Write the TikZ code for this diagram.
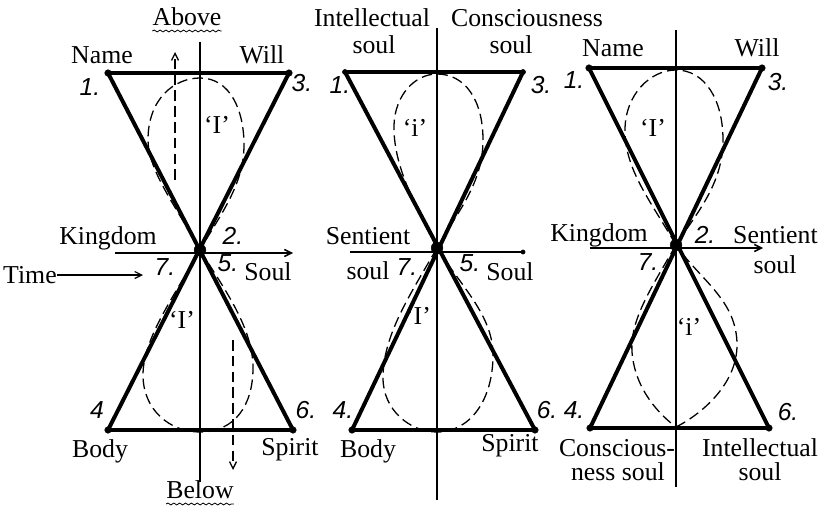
\documentclass[tikz,border=0pt]{standalone}
\usepackage{fontspec}
\setmainfont{Liberation Serif}
\newfontfamily\hand{Liberation Sans}
\usetikzlibrary{arrows.meta,decorations.pathmorphing}

\begin{document}
\begin{tikzpicture}[x=0.03cm, y=-0.03cm,
    tri/.style={line width=3.4pt, line join=round},
    axis/.style={line width=1.3pt},
    curl/.style={line width=1.1pt, dash pattern=on 9pt off 4.5pt},
    every node/.style={font=\fontsize{22}{24}\selectfont, inner sep=0pt},
    num/.style={font=\hand\itshape\fontsize{21}{23}\selectfont},
    wavy/.style={decorate, decoration={snake, amplitude=0.8pt, segment length=5pt}, line width=0.7pt},
    tip/.style={-{Straight Barb[length=6pt, width=6pt]}}]
\useasboundingbox (0,0) rectangle (823,508);

% left picture
\coordinate (a1) at (108,73);  \coordinate (a3) at (289,73);
\coordinate (a4) at (108,430); \coordinate (a6) at (293,430);
\coordinate (ac) at (200,250);
\coordinate (atop) at (200,42); \coordinate (abot) at (200,482);
\coordinate (al) at (115,253);  \coordinate (ar) at (293,253);
\draw[axis] (atop) -- (abot);
\draw[axis, tip] (al) -- (ar);
\draw[tri] (a1) -- (a3) -- (a4) -- (a6) -- cycle;
\filldraw (a1) circle (2.8pt) (a3) circle (2.8pt) (a4) circle (2.8pt) (a6) circle (2.8pt);
\filldraw (ac) circle (5pt);
\draw[curl] (ac) .. controls (175,205) and (148,170) .. (148,140) .. controls (148,98) and (175,78) .. (200,78)
  .. controls (230,78) and (244,110) .. (244,145) .. controls (244,185) and (220,215) .. (ac);
\draw[curl] (ac) .. controls (175,295) and (143,338) .. (143,375) .. controls (143,410) and (170,432) .. (200,432)
  .. controls (235,432) and (253,405) .. (253,368) .. controls (253,328) and (225,290) .. (ac);
\coordinate (upa) at (175,180); \coordinate (upb) at (175,52);
\coordinate (dna) at (233,340); \coordinate (dnb) at (233,470);
\draw[curl, tip] (upa) -- (upb);
\draw[curl, tip] (dna) -- (dnb);
\node (above) at (187,17) {Above};
\draw[wavy] ([yshift=-4pt]above.south west) -- ([yshift=-4pt]above.south east);
\node (below) at (200,490) {Below};
\draw[wavy] ([yshift=-4pt]below.south west) -- ([yshift=-4pt]below.south east);
\node (aname) at (102,55) {Name};
\node (awill) at (262,55) {Will};
\node[num] (an1) at (90,87) {1.};
\node[num] (an3) at (302,83) {3.};
\node (aI) at (217,125) {‘I’};
\node (aking) at (108,238) {Kingdom};
\node[num] (an2) at (233,236) {2.};
\node[anchor=west] (time) at (3,275) {Time};
\coordinate (timeend) at (143,275);
\draw[line width=1pt, tip] (time.east) -- (timeend);
\node[num] (an7) at (165,267) {7.};
\node[num] (an5) at (228,263) {5.};
\node (asoul) at (268,272) {Soul};
\node (aI2) at (182,320) {‘I’};
\node[num] (an4) at (97,410) {4};
\node[num] (an6) at (306,410) {6.};
\node (abody) at (100,451) {Body};
\node (aspirit) at (290,450) {Spirit};

% middle picture
\coordinate (b1) at (345,72);  \coordinate (b3) at (523,72);
\coordinate (b4) at (352,430); \coordinate (b6) at (535,430);
\coordinate (bc) at (437,248);
\coordinate (btop) at (437,28); \coordinate (bbot) at (437,500);
\coordinate (bl) at (350,252);  \coordinate (br) at (523,252);
\draw[axis] (btop) -- (bbot);
\draw[axis] (bl) -- (br);
\filldraw (br) circle (1.8pt);
\draw[tri] (b1) -- (b3) -- (b4) -- (b6) -- cycle;
\filldraw (b1) circle (2.2pt) (b3) circle (2.2pt) (b4) circle (2.8pt) (b6) circle (2.8pt);
\filldraw (bc) circle (5pt);
\draw[curl] (bc) .. controls (415,205) and (393,165) .. (394,125) .. controls (395,95) and (415,74) .. (437,74)
  .. controls (465,74) and (483,100) .. (483,140) .. controls (483,185) and (455,215) .. (bc);
\draw[curl] (bc) .. controls (410,295) and (383,335) .. (383,378) .. controls (383,410) and (410,432) .. (437,432)
  .. controls (470,432) and (493,400) .. (493,355) .. controls (493,315) and (460,285) .. (bc);
\node (bint) at (372,18) {Intellectual};
\node (bcons) at (527,18) {Consciousness};
\node (bsoul1) at (374,45) {soul};
\node (bsoul2) at (511,45) {soul};
\node[num] (bn1) at (340,85) {1.};
\node[num] (bn3) at (541,85) {3.};
\node (bi) at (415,128) {‘i’};
\node (bsent) at (368,236) {Sentient};
\node (bsoul3) at (368,271) {soul};
\node[num] (bn7) at (407,267) {7.};
\node[num] (bn5) at (470,263) {5.};
\node (bsoul4) at (510,272) {Soul};
\node (bI) at (418,316) {‘I’};
\node[num] (bn4) at (343,410) {4.};
\node[num] (bn6) at (547,410) {6.};
\node (bbody) at (368,451) {Body};
\node (bspirit) at (510,446) {Spirit};

% right picture
\coordinate (c1) at (589,68);  \coordinate (c3) at (762,68);
\coordinate (c4) at (590,428); \coordinate (c6) at (769,428);
\coordinate (cc) at (676,245);
\coordinate (ctop) at (676,30); \coordinate (cbot) at (676,487);
\coordinate (cl) at (590,248);  \coordinate (cr) at (763,248);
\coordinate (cdip) at (676,427);
\draw[axis] (ctop) -- (cbot);
\draw[axis, tip] (cl) -- (cr);
\draw[tri] (c1) -- (c3) -- (c4) -- (c6) -- cycle;
\filldraw (c1) circle (2.8pt) (c3) circle (2.8pt) (c4) circle (2.8pt) (c6) circle (2.8pt);
\filldraw (cc) circle (5pt);
\draw[curl] (cc) .. controls (650,200) and (625,170) .. (625,130) .. controls (625,95) and (650,70) .. (676,70)
  .. controls (705,70) and (723,100) .. (723,140) .. controls (723,185) and (695,215) .. (cc);
\draw[curl] (cc) .. controls (650,290) and (630,320) .. (632,352) .. controls (635,390) and (660,415) .. (cdip);
\draw[curl] (cdip) .. controls (700,415) and (737,385) .. (737,345) .. controls (737,300) and (700,280) .. (cc);
\node (cname) at (613,48) {Name};
\node (cwill) at (757,48) {Will};
\node[num] (cn1) at (574,80) {1.};
\node[num] (cn3) at (778,82) {3.};
\node (cI) at (653,128) {‘I’};
\node (cking) at (599,235) {Kingdom};
\node[num] (cn2) at (705,235) {2.};
\node[anchor=west] (csent) at (733,235) {Sentient};
\node (csoul) at (775,265) {soul};
\node[num] (cn7) at (648,262) {7.};
\node (ci) at (689,327) {‘i’};
\node[num] (cn4) at (574,410) {4.};
\node[num] (cn6) at (788,412) {6.};
\node (ccons) at (617,448) {Conscious-};
\node (cness) at (618,472) {ness soul};
\node (cint) at (760,448) {Intellectual};
\node (csoul2) at (760,472) {soul};
\end{tikzpicture}
\end{document}
